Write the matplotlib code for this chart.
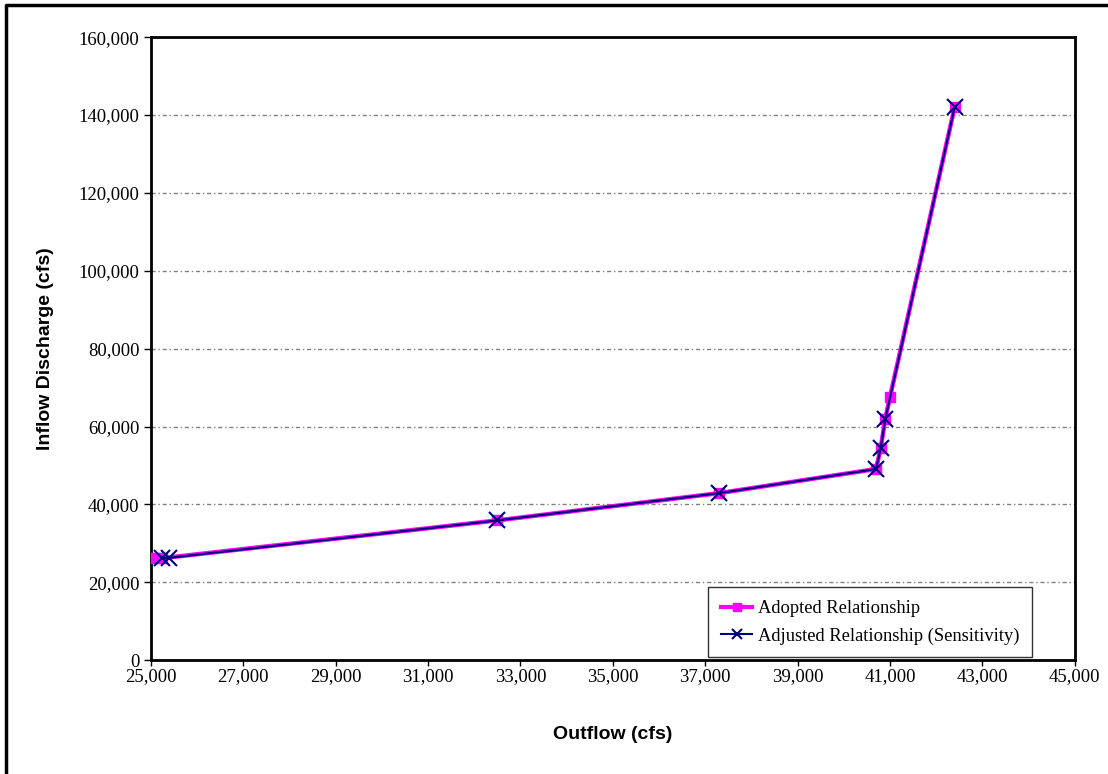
import matplotlib.pyplot as plt
from matplotlib.ticker import FuncFormatter, MultipleLocator
from matplotlib.lines import Line2D

# Adopted relationship (outflow vs inflow, cfs)
adopted_out = [25100, 25250, 32500, 37300, 40700, 40800, 40900, 41000, 42400]
adopted_in = [26200, 26200, 35900, 42900, 49100, 54500, 62000, 67500, 142000]

# Adjusted relationship (sensitivity)
adjusted_out = [25250, 25400, 32500, 37300, 40700, 40800, 40900, 42400]
adjusted_in = [26200, 26300, 35900, 42900, 49100, 54500, 62000, 142000]

x_ticks = list(range(25000, 45001, 2000))

serif = 'Liberation Serif'
sans = 'Liberation Sans'

fig = plt.figure(figsize=(11.08, 7.74), dpi=100)
ax = fig.add_axes([0.136, 0.147, 0.834, 0.805])

ax.plot(adopted_out, adopted_in, color='#FF00FF', lw=3.2, marker='s', ms=7,
        mec='#FF00FF', mfc='#FF00FF', zorder=3)
ax.plot(adjusted_out, adjusted_in, color='#000080', lw=1.6, marker='x', ms=11,
        mew=1.5, zorder=4)

ax.set_xlim(25000, 45000)
ax.set_ylim(0, 160000)
ax.set_xticks(x_ticks)
ax.yaxis.set_major_locator(MultipleLocator(20000))
fmt = FuncFormatter(lambda v, p: f'{int(v):,}')
ax.xaxis.set_major_formatter(fmt)
ax.yaxis.set_major_formatter(fmt)

for lab in ax.get_xticklabels() + ax.get_yticklabels():
    lab.set_fontfamily(serif)
    lab.set_fontsize(13.5)
ax.tick_params(direction='out', length=5, width=1, colors='black', pad=3)
ax.tick_params(axis='x', length=4, pad=2)

ax.grid(axis='y', color='#808080', linestyle='-.', lw=1, dashes=(3, 2, 1, 2))
ax.set_axisbelow(True)
for s in ax.spines.values():
    s.set_linewidth(2)

ax.set_xlabel('Outflow (cfs)', fontfamily=sans, fontweight='bold', fontsize=14, labelpad=29)
ax.set_ylabel('Inflow Discharge (cfs)', fontfamily=sans, fontweight='bold', fontsize=14, labelpad=18)

handles = [
    Line2D([], [], color='#FF00FF', lw=3, marker='s', ms=6),
    Line2D([], [], color='#000080', lw=1.5, marker='x', ms=7, mew=1.5),
]
leg = ax.legend(handles, ['Adopted Relationship', 'Adjusted Relationship (Sensitivity)'],
                loc='lower right', bbox_to_anchor=(0.957, 0.0),
                prop={'family': serif, 'size': 13.3}, frameon=True, fancybox=False,
                edgecolor='black', handlelength=1.7, handletextpad=0.3,
                borderpad=0.7, labelspacing=0.55, borderaxespad=0.15)
leg.get_frame().set_linewidth(1)

# outer chart border
fig.add_artist(Line2D([0.005, 0.005, 1.0], [0.0, 0.994, 0.994],
                      transform=fig.transFigure, color='black', lw=2.5))

fig.savefig('out.png', dpi=100)
